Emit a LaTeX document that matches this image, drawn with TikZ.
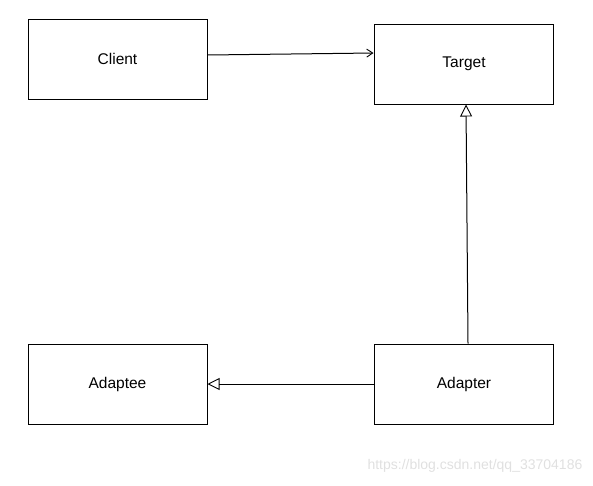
\documentclass[tikz,border=0pt]{standalone}
\usepackage{fontspec}
\setmainfont{Liberation Sans}
\usetikzlibrary{arrows.meta,positioning}

\begin{document}
\begin{tikzpicture}[x=1pt,y=-1pt,line width=1pt,
  class node/.style={rectangle,draw,minimum width=179pt,minimum height=80pt,font=\fontsize{15.5}{17}\selectfont},
  assoc/.style={-{Straight Barb[length=6pt,width=8pt,line width=0.9pt]},shorten >=0.5pt},
  inherit/.style={-{Triangle[open,length=12pt,width=12pt,line width=0.9pt]}}]
   \useasboundingbox (0,0) rectangle (593,485);
   \node[class node] (client)  at (117.5,59) {Client};
   \node[class node] (target)  at (464,64)   {Target};
   \node[class node] (adaptee) at (117.5,384) {Adaptee};
   \node[class node] (adapter) at (464,384)  {Adapter};
   \draw[assoc] ([yshift=4pt]client.east) -- ([yshift=11pt]target.west);
   \draw[inherit] ([xshift=4pt]adapter.north) -- ([xshift=2pt]target.south);
   \draw[inherit] (adapter.west) -- (adaptee.east);
   % watermark
   \node[anchor=west,text=black!12,font=\fontsize{14}{16}\selectfont,inner sep=0pt] (mark) at (367,466) {https://blog.csdn.net/qq\_33704186};
\end{tikzpicture}
\end{document}
